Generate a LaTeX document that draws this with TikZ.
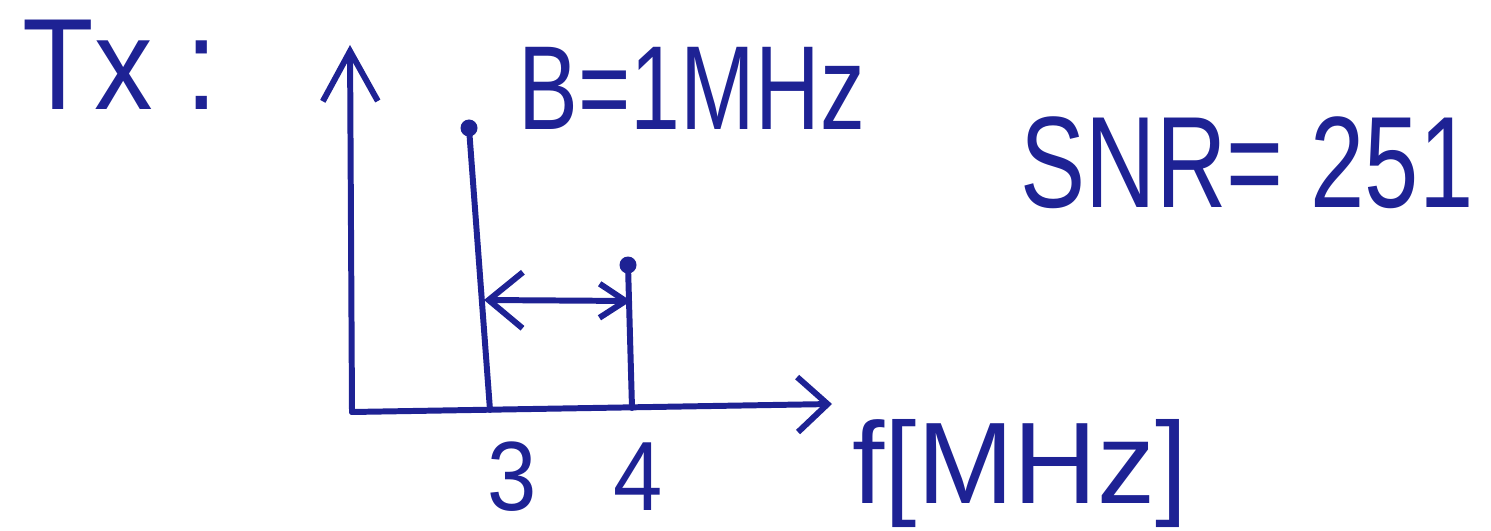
\documentclass[tikz,border=0pt]{standalone}
\usepackage{fontspec}
\usetikzlibrary{arrows.meta}
\newfontfamily\handfont[FakeStretch=0.75]{Liberation Sans}
\newfontfamily\handwide[FakeStretch=0.9]{Liberation Sans}
\newfontfamily\handplain{Liberation Sans}
\definecolor{ink}{RGB}{30,34,148}

\begin{document}
\begin{tikzpicture}[
        x=0.1mm, y=-0.1mm,
        pen/.style={draw=ink, line width=1.7pt, line cap=round, line join=round},
        txt/.style={text=ink, inner sep=0pt, anchor=base west},
        axis/.style={pen, -{Straight Barb[length=3mm, width=5.5mm]}},
        dim/.style={pen, {Straight Barb[length=3.4mm, width=5.6mm]}-{Straight Barb[length=2.6mm, width=3.4mm]}},
        dot/.style={circle, fill=ink, inner sep=0pt, minimum size=1.7mm}
    ]
    \useasboundingbox (0,0) rectangle (1491,531);

    % axes
    \coordinate (O) at (352,412);
    \coordinate (Ytop) at (350,45);
    \coordinate (Xend) at (832,404);
    \draw[pen, -{Straight Barb[length=5mm, width=5.5mm]}] (O) -- (Ytop);
    \draw[axis] (O) -- (Xend);

    % spectral lines
    \coordinate (S1base) at (490,410);
    \coordinate (S2base) at (632,408);
    \node[dot] (S1top) at (469,128) {};
    \node[dot] (S2top) at (628,265) {};
    \draw[pen] (S1base) -- (S1top.center);
    \draw[pen] (S2base) -- (S2top.center);

    % bandwidth
    \coordinate (B1) at (484,300);
    \coordinate (B2) at (631,301);
    \draw[dim] (B1) -- (B2);

    % labels
    \node[txt, font=\handwide\fontsize{37}{40}\selectfont] (Tx) at (22,110) {Tx :};
    \node[txt, font=\handfont\fontsize{34}{38}\selectfont] (Bw) at (518,130) {B=1MHz};
    \node[txt, font=\handfont\fontsize{37}{40}\selectfont] (Snr) at (1020,207) {SNR= 251};
    \node[txt, font=\handplain\fontsize{33}{36}\selectfont] (Funit) at (852,503) {f[MHz]};
    \node[txt, anchor=base, font=\handwide\fontsize{28}{32}\selectfont] (F3) at (512,510) {3};
    \node[txt, anchor=base, font=\handwide\fontsize{28}{32}\selectfont] (F4) at (638,510) {4};

\end{tikzpicture}
\end{document}
